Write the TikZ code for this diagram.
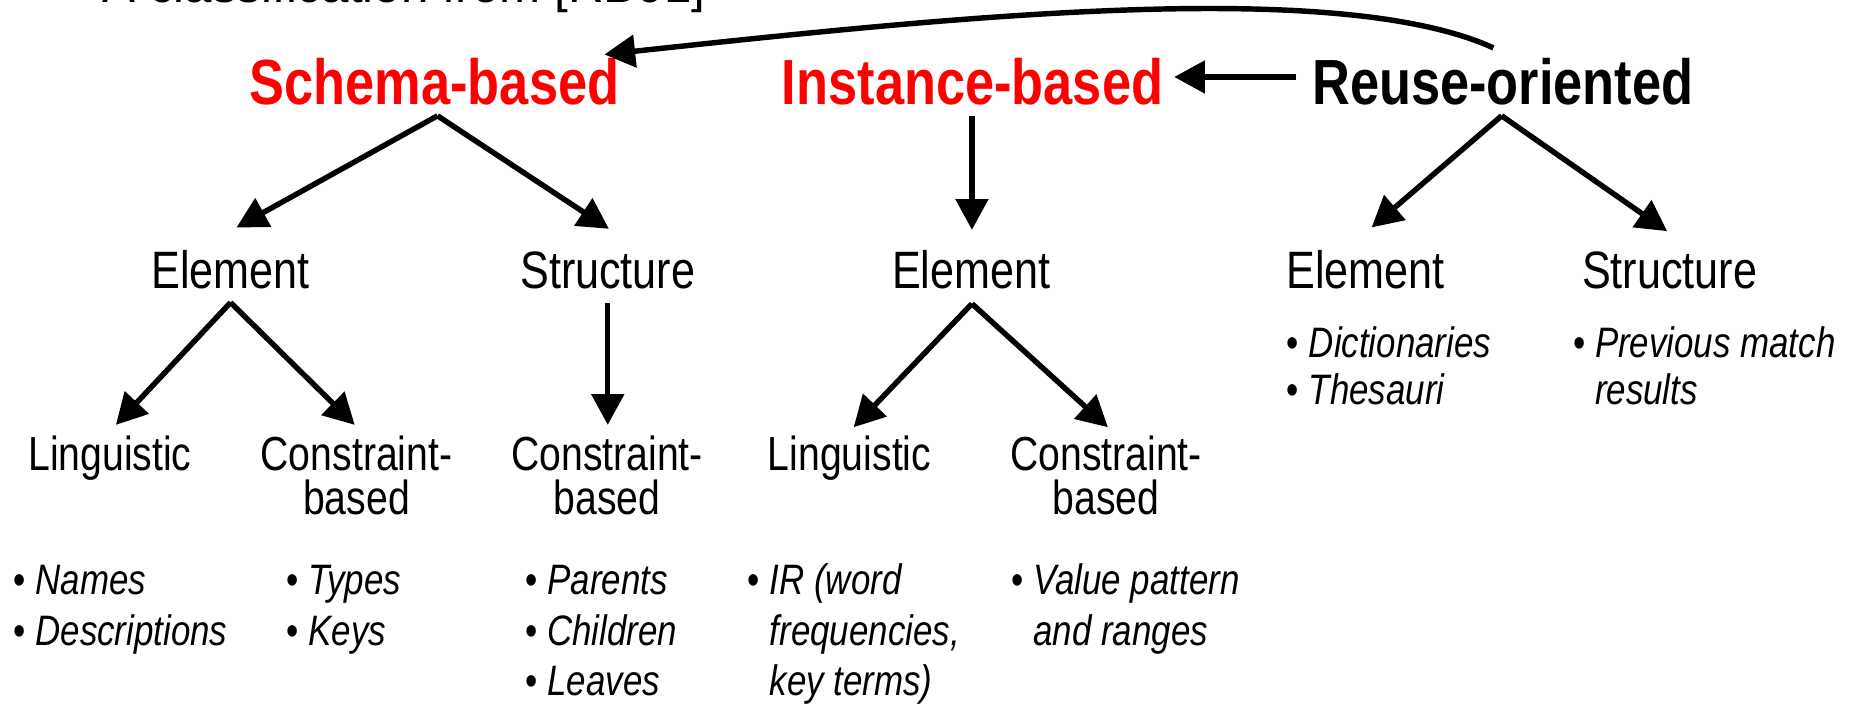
\documentclass[tikz,border=0pt]{standalone}
\usepackage{fontspec}
\setmainfont{Liberation Sans}
\newfontfamily\narrow{Liberation Sans}[FakeStretch=0.82]
\usetikzlibrary{arrows.meta}
\definecolor{hired}{RGB}{255,0,0}
\begin{document}
\begin{tikzpicture}[x=0.5pt,y=-0.5pt,
  toplab/.style={inner sep=0pt, anchor=base, font=\narrow\bfseries\fontsize{27}{32}\selectfont},
  lab/.style={inner sep=0pt, anchor=base, font=\narrow\fontsize{22.25}{26}\selectfont},
  sublab/.style={inner sep=0pt, anchor=base, align=center, font=\narrow\fontsize{20.2}{18.5}\selectfont},
  items/.style={inner sep=0pt, anchor=base west, align=left, font=\narrow\fontsize{18}{21.25}\selectfont},
  itemsr/.style={items, font=\narrow\fontsize{18}{20}\selectfont},
  arr/.style={line width=2.3pt, -{Triangle[length=13pt,width=13.5pt]}},
]
\useasboundingbox (0,0) rectangle (1568,595);
\clip (0,0) rectangle (1568,595);

% title (clipped at top)
\node[inner sep=0pt, anchor=base west, font=\fontsize{20.85}{24}\selectfont] (title) at (86.3,2) {A classification from [RB01]};

% level 1
\node[toplab, text=hired] (schema) at (367.5,88) {Schema-based};
\node[toplab, text=hired] (instance) at (822.5,88) {Instance-based};
\node[toplab] (reuse) at (1271,88) {Reuse-oriented};

% level 2
\node[lab] (el1) at (195,244) {Element};
\node[lab] (st1) at (514,244) {Structure};
\node[lab] (el2) at (821.5,244) {Element};
\node[lab] (el3) at (1155,244) {Element};
\node[lab] (st3) at (1412,244) {Structure};

% level 3 (base anchor = last line)
\node[sublab] (li1) at (93,398) {Linguistic};
\node[sublab] (cb1) at (301.5,435) {Constraint-\\based};
\node[sublab] (cb2) at (513.5,435) {Constraint-\\based};
\node[sublab] (li2) at (718.5,398) {Linguistic};
\node[sublab] (cb3) at (935.5,435) {Constraint-\\based};

% bullet lists (base anchor = last line)
\node[items] (b1) at (11,545.5) {• \textit{Names}\\• \textit{Descriptions}};
\node[items] (b2) at (242,545.5) {• \textit{Types}\\• \textit{Keys}};
\node[items] (b3) at (444,588) {• \textit{Parents}\\• \textit{Children}\\• \textit{Leaves}};
\node[items] (b4) at (632,588) {• \textit{IR (word}\\\hphantom{• }\textit{frequencies,}\\\hphantom{• }\textit{key terms)}};
\node[items] (b5) at (855,545.5) {• \textit{Value pattern}\\\hphantom{• }\textit{and ranges}};
\node[itemsr] (b6) at (1088,342) {• \textit{Dictionaries}\\• \textit{Thesauri}};
\node[itemsr] (b7) at (1330,342) {• \textit{Previous match}\\\hphantom{• }\textit{results}};

% arrows
\draw[arr] ([xshift=1.25pt,yshift=-4.5pt]schema.south) -- ([xshift=2.5pt,yshift=9.5pt]el1.north);
\draw[arr] ([xshift=1.25pt,yshift=-4.5pt]schema.south) -- ([xshift=0.5pt,yshift=9.5pt]st1.north);
\draw[arr] ([yshift=-5.5pt]el1.south) -- ([xshift=2.5pt,yshift=4.5pt]li1.north);
\draw[arr] ([yshift=-5.5pt]el1.south) -- ([xshift=-0.75pt,yshift=4.5pt]cb1.north);
\draw[arr] ([yshift=-5.5pt]st1.south) -- ([xshift=0.25pt,yshift=4.5pt]cb2.north);
\draw[arr] ([xshift=-0.25pt,yshift=-4.5pt]instance.south) -- ([xshift=0.25pt,yshift=8.5pt]el2.north);
\draw[arr] ([xshift=0.25pt,yshift=-6pt]el2.south) -- ([xshift=1.75pt,yshift=3.5pt]li2.north);
\draw[arr] ([xshift=0.25pt,yshift=-6pt]el2.south) -- ([xshift=0.75pt,yshift=3.5pt]cb3.north);
\draw[arr] ([xshift=-0.5pt,yshift=-4.5pt]reuse.south) -- ([xshift=2.5pt,yshift=9.5pt]el3.north);
\draw[arr] ([xshift=-0.5pt,yshift=-4.5pt]reuse.south) -- ([xshift=-1pt,yshift=8.5pt]st3.north);
\draw[arr] ([xshift=-6.5pt,yshift=1.8pt]reuse.west) -- ([xshift=4.5pt,yshift=1.8pt]instance.east);
\draw[arr] ([xshift=-4pt,yshift=4pt]reuse.north) .. controls (1130,-20) and (800,15) .. ([xshift=-6.5pt,yshift=1.2pt]schema.north east);
\end{tikzpicture}
\end{document}
